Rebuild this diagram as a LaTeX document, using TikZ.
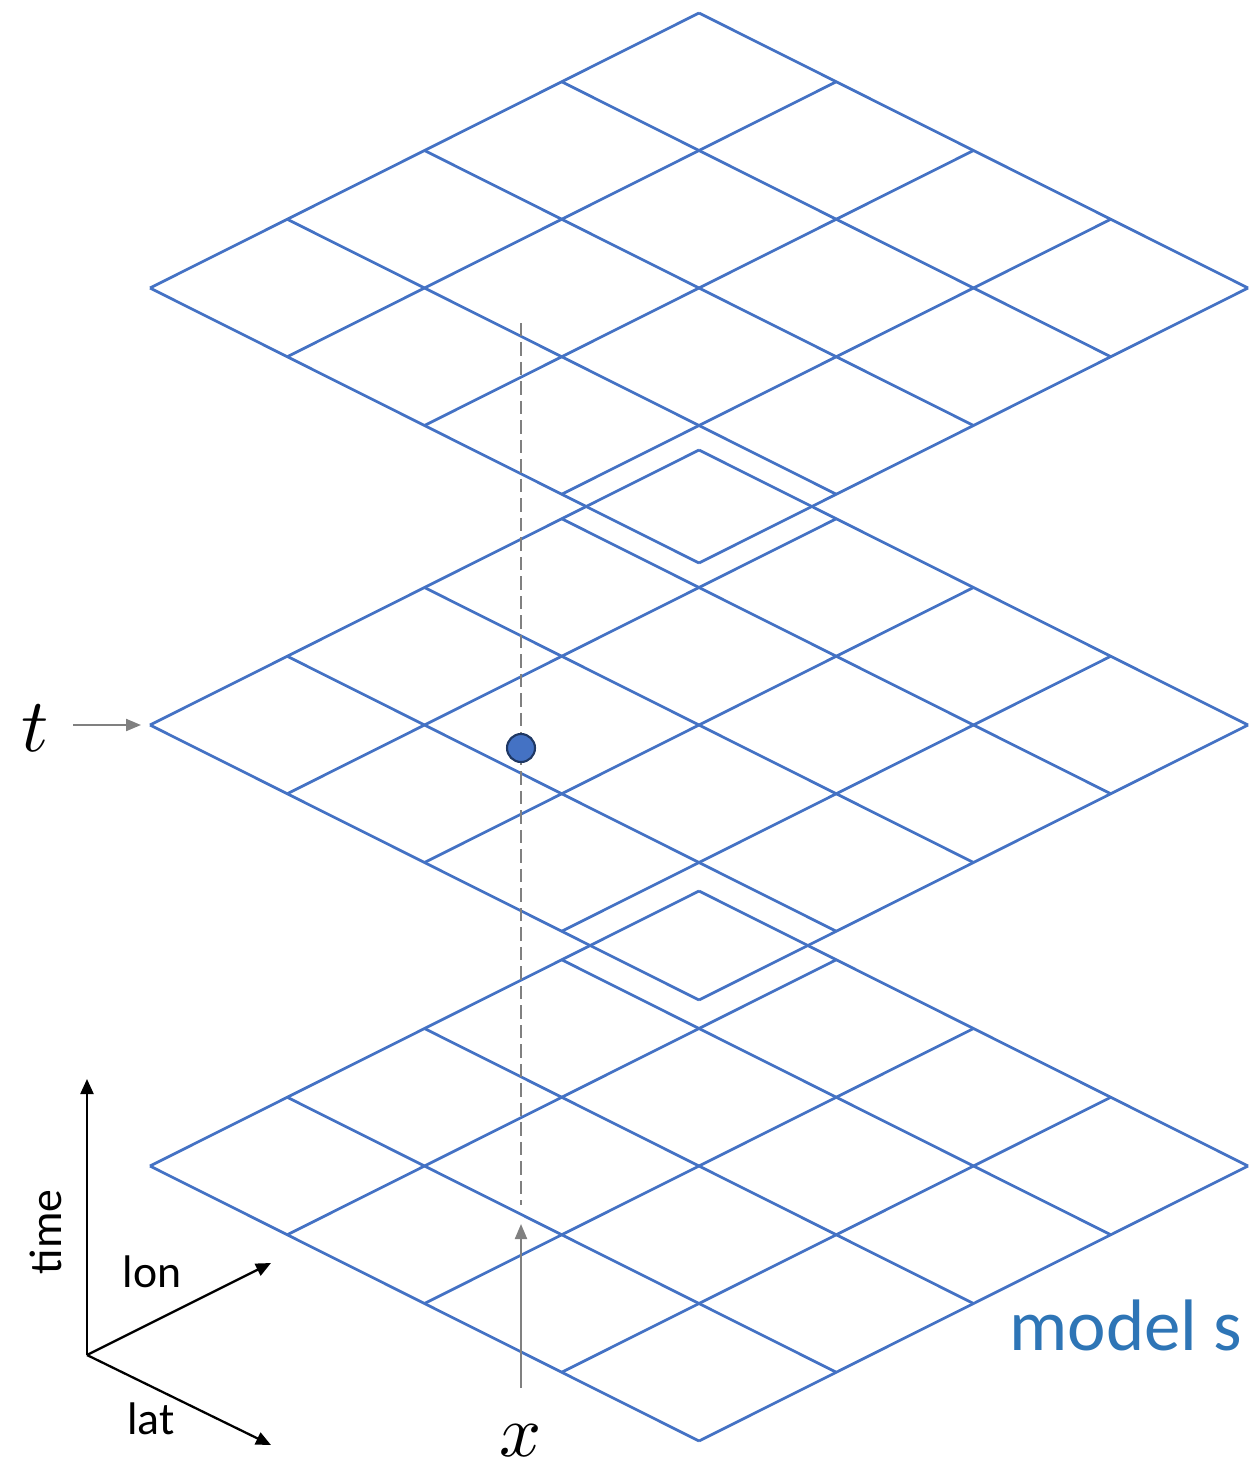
\documentclass[tikz,border=0pt]{standalone}
\usepackage{fontspec}
\setmainfont{Carlito}
\usetikzlibrary{arrows.meta,calc}
\definecolor{gridblue}{HTML}{4472C4}
\definecolor{dotline}{HTML}{1F3864}
\definecolor{labelblue}{HTML}{2E75B6}
\definecolor{arrgray}{HTML}{808080}
\tikzset{
  gridline/.style={draw=gridblue, line width=1.55pt},
  axisarrow/.style={draw=black, line width=1.3pt, -{Triangle[length=0.3cm,width=0.26cm]}},
  grayarrow/.style={draw=arrgray, line width=1.2pt, -{Triangle[length=0.3cm,width=0.24cm]}},
  dashline/.style={draw=arrgray, line width=1.3pt, dash pattern=on 0.27cm off 0.12cm},
  axislabel/.style={font=\fontsize{26}{30}\selectfont, inner sep=0pt},
  mathlabel/.style={inner sep=0pt},
}
\begin{document}
\begin{tikzpicture}[x=0.02cm,y=-0.02cm]
\useasboundingbox (0,0) rectangle (1249,1473);
% three 4x4 grids
\foreach \ly/\nm in {288/top,725/mid,1166/bot}{
  \coordinate (\nm-L) at (150,\ly);
  \foreach \i in {0,...,4}{
    \draw[gridline] ($(150,\ly)+(\i*137.25,\i*-68.75)$) -- ++(549,275);
    \draw[gridline] ($(150,\ly)+(\i*137.25,\i*68.75)$) -- ++(549,-275);
  }
}
% dashed vertical line
\coordinate (dtop) at (521,323);
\coordinate (dbot) at (521,1205);
\draw[dashline] (dtop) -- (dbot);
% point
\node[circle, fill=gridblue, draw=dotline, line width=1.2pt, minimum size=0.56cm, inner sep=0pt] (pt) at (521,748) {};
% t label
\node[mathlabel] (tlab) at (35,728) {\scalebox{4.3}{$t$}};
\coordinate (tarrS) at (73,725);
\coordinate (tarrE) at (141,725);
\draw[grayarrow] (tarrS) -- (tarrE);
% x label
\node[mathlabel] (xlab) at (521,1441) {\scalebox{4.2}{$x$}};
\coordinate (xarrS) at (521,1388);
\coordinate (xarrE) at (521,1224);
\draw[grayarrow] (xarrS) -- (xarrE);
% axes
\coordinate (O) at (87,1355);
\coordinate (Tup) at (87,1079);
\coordinate (Lon) at (271,1263);
\coordinate (Lat) at (271,1445);
\draw[axisarrow] (O) -- (Tup);
\draw[axisarrow] (O) -- (Lon);
\draw[axisarrow] (O) -- (Lat);
\node[axislabel, rotate=90] (timelab) at (46,1232) {time};
\node[axislabel, anchor=base] (lonlab) at (152,1287) {lon};
\node[axislabel, anchor=base] (latlab) at (151,1434) {lat};
% model label
\node[font=\fontsize{41.5}{46}\selectfont, text=labelblue, inner sep=0pt, anchor=base west] (model) at (1009,1350) {model s};
\end{tikzpicture}
\end{document}
